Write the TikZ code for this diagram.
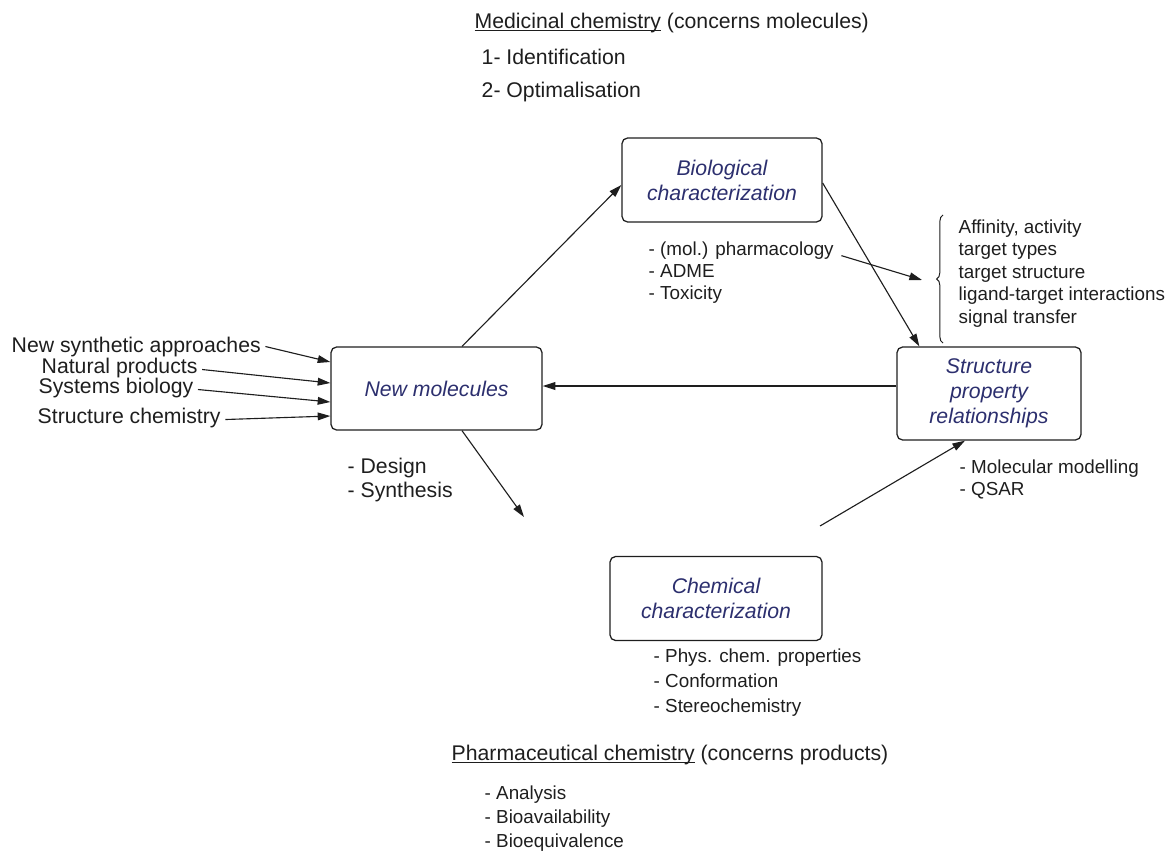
\documentclass[tikz,border=0pt]{standalone}
\usepackage{fontspec}
\setmainfont{Liberation Sans}
\usetikzlibrary{arrows.meta,calc,decorations.pathreplacing}
\definecolor{boxtext}{RGB}{44,47,110}
\definecolor{lineclr}{RGB}{30,30,30}
\newcommand{\ulin}[1]{\setbox0\hbox{#1}\rlap{\rule[-2pt]{\wd0}{0.6pt}}\box0\relax}
\tikzset{
  topic/.style={draw=lineclr, line width=0.9pt, rounded corners=4pt, align=center,
    font=\fontsize{15.1}{17.8}\selectfont\itshape, text=boxtext},
  bigtxt/.style={anchor=base west, inner sep=1pt, font=\fontsize{15.1}{18}\selectfont, text=lineclr},
  smalltxt/.style={anchor=base west, inner sep=1pt, font=\fontsize{13.4}{16}\selectfont, text=lineclr},
  arr/.style={-{Triangle[length=9pt,width=5.5pt]}, line width=0.8pt, draw=lineclr},
}

\begin{document}
\begin{tikzpicture}[x=0.025cm,y=-0.025cm]
\useasboundingbox (0,0) rectangle (1168,851);

% the four boxes
\node[topic, minimum width=5cm, minimum height=2.1cm] (bio) at (722,180) {Biological\\characterization};
\node[topic, minimum width=5.275cm, minimum height=2.075cm] (newmol) at (436.5,388.5) {New molecules};
\node[topic, minimum width=4.6cm, minimum height=2.325cm] (spr) at (989,393.5) {Structure\\property\\relationships};
\node[topic, minimum width=5.3cm, minimum height=2.1cm] (chem) at (716,598.5) {Chemical\\characterization};

% headings
\node[bigtxt] (medchem) at (473,28) {\ulin{Medicinal chemistry} (concerns molecules)};
\node[bigtxt] (ident) at (480,64) {1- Identification};
\node[bigtxt] (optim) at (480,97) {2- Optimalisation};
\node[bigtxt] (pharmchem) at (450,760) {\ulin{Pharmaceutical chemistry} (concerns products)};
\node[smalltxt] (analysis) at (483,799) {- Analysis};
\node[smalltxt] (bioavail) at (483,823) {- Bioavailability};
\node[smalltxt] (bioequiv) at (483,847) {- Bioequivalence};

% inputs on the left
\node[bigtxt] (nsa) at (10,352) {New synthetic approaches};
\node[bigtxt] (natprod) at (40,373) {Natural products};
\node[bigtxt] (sysbio) at (37,393) {Systems biology};
\node[bigtxt] (strchem) at (36,423) {Structure chemistry};
\draw[arr] ($(nsa.east)+(3,0)$) -- ($(newmol.west)+(0,-26.5)$);
\draw[arr] ($(natprod.east)+(3,2)$) -- ($(newmol.west)+(0,-5.5)$);
\draw[arr] ($(sysbio.east)+(3,2)$) -- ($(newmol.west)+(0,13.5)$);
\draw[arr] ($(strchem.east)+(3,2)$) -- ($(newmol.west)+(0,27.5)$);

% lists
\node[smalltxt] (pharm) at (647,255.5) {- (mol.) pharmacology};
\node[smalltxt] (adme) at (647,277.5) {- ADME};
\node[smalltxt] (tox) at (647,299.5) {- Toxicity};

\node[smalltxt] (affin) at (957,233) {Affinity, activity};
\node[smalltxt] (ttypes) at (957,255) {target types};
\node[smalltxt] (tstruct) at (957,278) {target structure};
\node[smalltxt] (ligand) at (957,300) {ligand-target interactions};
\node[smalltxt] (signal) at (957,323) {signal transfer};

\node[bigtxt] (design) at (346,473) {- Design};
\node[bigtxt] (synth) at (346,497) {- Synthesis};

\node[smalltxt] (molmod) at (958,473) {- Molecular modelling};
\node[smalltxt] (qsar) at (958,495) {- QSAR};

\node[smalltxt] (physchem) at (652,662) {- Phys. chem. properties};
\node[smalltxt] (conform) at (652,687) {- Conformation};
\node[smalltxt] (stereo) at (652,712) {- Stereochemistry};

% brace
\coordinate (brbot) at (943,343);
\coordinate (brtop) at (943,215);
\coordinate (brtip) at (922,280);
\draw[lineclr, line width=0.7pt, decorate, decoration={brace, amplitude=4.5pt}] (brbot) -- (brtop);

% connectors
\coordinate (chemin) at (524,517);
\coordinate (chemout) at (820,526);
\draw[arr] ($(newmol.north)+(25.5,0)$) -- ($(bio.west)+(0,5)$);
\draw[arr] ($(bio.east)+(0,3)$) -- ($(spr.north west)+(23,0)$);
\draw[arr] ($(pharm.east)+(6,5)$) -- (brtip);
\draw[arr] ($(spr.west)+(0,-7.5)$) -- ($(newmol.east)+(0,-2.5)$);
\draw[arr] ($(newmol.south)+(25.5,0)$) -- (chemin);
\draw[arr] (chemout) -- ($(spr.south)+(-24,0)$);
\end{tikzpicture}
\end{document}
